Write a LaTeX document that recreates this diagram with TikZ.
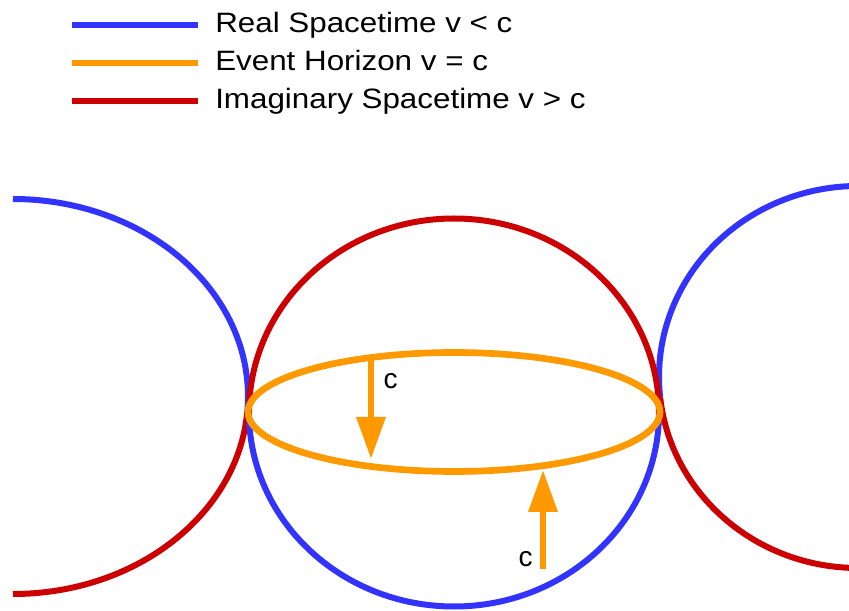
\documentclass[tikz,border=0pt]{standalone}
\usepackage{fontspec}
\usepackage{graphicx}
\setmainfont{Liberation Sans}
\usetikzlibrary{arrows.meta}
\definecolor{rblue}{RGB}{51,51,255}
\definecolor{horange}{RGB}{255,153,0}
\definecolor{ired}{RGB}{204,0,0}
\newcommand{\legtext}[1]{\scalebox{1.12}[1]{#1}}
\begin{document}
\begin{tikzpicture}[x=0.75pt,y=0.75pt,
  curve/.style={line width=4.5pt},
  legline/.style={line width=5pt},
  lab/.style={font=\fontsize{21}{25}\selectfont, anchor=base west, inner sep=0pt},
  clab/.style={font=\fontsize{21}{25}\selectfont, anchor=base, inner sep=0pt},
  cvec/.style={horange, line width=5pt, -{Triangle[length=31.5pt,width=21pt]}}
]
\useasboundingbox (0,0) rectangle (849,610);
\clip (0,0) rectangle (849,610);

% legend
\coordinate (l1a) at (72,585); \coordinate (l1b) at (198,585);
\coordinate (l2a) at (72,547); \coordinate (l2b) at (198,547);
\coordinate (l3a) at (72,509); \coordinate (l3b) at (198,509);
\draw[legline, rblue] (l1a) -- (l1b);
\draw[legline, horange] (l2a) -- (l2b);
\draw[legline, ired] (l3a) -- (l3b);
\node[lab] (t1) at (215,577) {\legtext{Real Spacetime v < c}};
\node[lab] (t2) at (215,539) {\legtext{Event Horizon v = c}};
\node[lab] (t3) at (215,501) {\legtext{Imaginary Spacetime v > c}};

% left shape
\draw[curve, rblue] (13,411) arc[start angle=90, end angle=-4.5, x radius=235, y radius=197.5] coordinate (lsplit);
\draw[curve, ired] (lsplit) arc[start angle=-4.5, end angle=-90, x radius=235, y radius=197.5];

% right shape
\draw[curve, rblue] (858,424) arc[start angle=90, end angle=186.3, x radius=199, y radius=191] coordinate (rsplit);
\draw[curve, ired] (rsplit) arc[start angle=186.3, end angle=270, x radius=199, y radius=191];

% middle shape
\coordinate (mleft) at (249,197.5);
\draw[curve, ired] (mleft) arc[start angle=180, end angle=0, x radius=205, y radius=194];
\draw[curve, rblue] (mleft) arc[start angle=180, end angle=360, x radius=205, y radius=194];

% event horizon
\draw[line width=5pt, horange] (454,198) ellipse [x radius=206, y radius=59.5];

% arrows
\coordinate (a1s) at (371,255); \coordinate (a1e) at (371,151);
\coordinate (a2s) at (543,41);  \coordinate (a2e) at (543,140);
\draw[cvec] (a1s) -- (a1e);
\draw[cvec] (a2s) -- (a2e);
\node[clab] (c1) at (390.5,221) {c};
\node[clab] (c2) at (525.5,43) {c};
\end{tikzpicture}
\end{document}
